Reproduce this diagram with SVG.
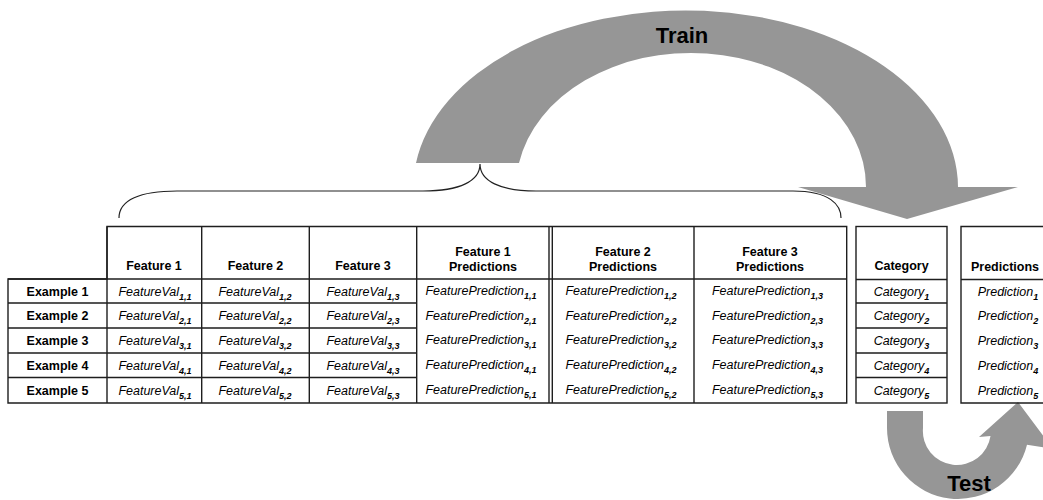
<svg xmlns="http://www.w3.org/2000/svg" width="1043" height="500" viewBox="0 0 1043 500">
<style>
  text { font-family: "Liberation Sans", Arial, sans-serif; fill: #000; text-anchor: middle; }
  .h { font-size: 12.5px; font-weight: bold; }
  .v { font-size: 12.5px; font-style: italic; }
  .sub { font-size: 9px; font-style: italic; font-weight: bold; }
  .big { font-size: 22px; font-weight: bold; }
  .grid { fill: none; stroke: #1e1e1e; stroke-width: 1.4; }
  .arrow { fill: #969696; stroke: none; }
  .brace { fill: none; stroke: #222; stroke-width: 1.2; }
</style>
<rect width="1043" height="500" fill="#fff"/>

<g id="connectors">
  <g id="train-arrow">
    <path class="arrow" d="M 416 163 A 272.3 177 0 0 1 958 187 L 1018 187 L 907 219 L 798 187 L 866 187 A 174.9 134 0 0 0 519 163 Z"/>
    <text class="big" x="682" y="43">Train</text>
  </g>
  <g id="test-arrow">
    <path class="arrow" d="M 887 411 L 923 411 L 923 428 A 34 34 0 0 0 990.5 436 L 979 437 L 1018 402 L 1053 449 L 1027 444.7 A 71 71 0 0 1 887 428 Z"/>
    <text class="big" x="969" y="491">Test</text>
  </g>
  <path id="brace" class="brace" d="M 119 218 C 119 200 140 191 177 191 L 423 191 C 460 191 480 181 480 164 C 480 181 500 191 536 191 L 793 191 C 830 191 841 205 841 218"/>
</g>

<g id="main-table">
  <g class="grid">
    <path d="M 107 226.5 H 846.7 V 403 H 8 V 279 H 107 Z"/>
    <path d="M 8 279 H 846.7"/>
    <path d="M 8 303 H 416.7 M 8 328 H 416.7 M 8 353 H 416.7 M 8 377.5 H 416.7"/>
    <path d="M 107 226.5 V 403 M 201.7 226.5 V 403 M 309.3 226.5 V 403 M 416.7 226.5 V 403 M 549 226.5 V 403 M 552.3 226.5 V 403 M 694 226.5 V 403"/>
  </g>
  <text class="h" x="154" y="270">Feature 1</text>
  <text class="h" x="255.5" y="270">Feature 2</text>
  <text class="h" x="363" y="270">Feature 3</text>
  <text class="h" x="483" y="255.5">Feature 1</text>
  <text class="h" x="483" y="270.5">Predictions</text>
  <text class="h" x="623" y="255.5">Feature 2</text>
  <text class="h" x="623" y="270.5">Predictions</text>
  <text class="h" x="770" y="255.5">Feature 3</text>
  <text class="h" x="770" y="270.5">Predictions</text>

  <text class="h" x="57.5" y="295.5">Example 1</text>
  <text class="h" x="57.5" y="320">Example 2</text>
  <text class="h" x="57.5" y="345">Example 3</text>
  <text class="h" x="57.5" y="369.5">Example 4</text>
  <text class="h" x="57.5" y="394.5">Example 5</text>

  <text class="v" x="155" y="295.5">FeatureVal<tspan class="sub" dy="4">1,1</tspan></text>
  <text class="v" x="255" y="295.5">FeatureVal<tspan class="sub" dy="4">1,2</tspan></text>
  <text class="v" x="363" y="295.5">FeatureVal<tspan class="sub" dy="4">1,3</tspan></text>
  <text class="v" x="155" y="320">FeatureVal<tspan class="sub" dy="4">2,1</tspan></text>
  <text class="v" x="255" y="320">FeatureVal<tspan class="sub" dy="4">2,2</tspan></text>
  <text class="v" x="363" y="320">FeatureVal<tspan class="sub" dy="4">2,3</tspan></text>
  <text class="v" x="155" y="345">FeatureVal<tspan class="sub" dy="4">3,1</tspan></text>
  <text class="v" x="255" y="345">FeatureVal<tspan class="sub" dy="4">3,2</tspan></text>
  <text class="v" x="363" y="345">FeatureVal<tspan class="sub" dy="4">3,3</tspan></text>
  <text class="v" x="155" y="369.5">FeatureVal<tspan class="sub" dy="4">4,1</tspan></text>
  <text class="v" x="255" y="369.5">FeatureVal<tspan class="sub" dy="4">4,2</tspan></text>
  <text class="v" x="363" y="369.5">FeatureVal<tspan class="sub" dy="4">4,3</tspan></text>
  <text class="v" x="155" y="394.5">FeatureVal<tspan class="sub" dy="4">5,1</tspan></text>
  <text class="v" x="255" y="394.5">FeatureVal<tspan class="sub" dy="4">5,2</tspan></text>
  <text class="v" x="363" y="394.5">FeatureVal<tspan class="sub" dy="4">5,3</tspan></text>

  <text class="v" x="481" y="295">FeaturePrediction<tspan class="sub" dy="4">1,1</tspan></text>
  <text class="v" x="621" y="295">FeaturePrediction<tspan class="sub" dy="4">1,2</tspan></text>
  <text class="v" x="767.5" y="295">FeaturePrediction<tspan class="sub" dy="4">1,3</tspan></text>
  <text class="v" x="481" y="319.5">FeaturePrediction<tspan class="sub" dy="4">2,1</tspan></text>
  <text class="v" x="621" y="319.5">FeaturePrediction<tspan class="sub" dy="4">2,2</tspan></text>
  <text class="v" x="767.5" y="319.5">FeaturePrediction<tspan class="sub" dy="4">2,3</tspan></text>
  <text class="v" x="481" y="344">FeaturePrediction<tspan class="sub" dy="4">3,1</tspan></text>
  <text class="v" x="621" y="344">FeaturePrediction<tspan class="sub" dy="4">3,2</tspan></text>
  <text class="v" x="767.5" y="344">FeaturePrediction<tspan class="sub" dy="4">3,3</tspan></text>
  <text class="v" x="481" y="368.5">FeaturePrediction<tspan class="sub" dy="4">4,1</tspan></text>
  <text class="v" x="621" y="368.5">FeaturePrediction<tspan class="sub" dy="4">4,2</tspan></text>
  <text class="v" x="767.5" y="368.5">FeaturePrediction<tspan class="sub" dy="4">4,3</tspan></text>
  <text class="v" x="481" y="393.5">FeaturePrediction<tspan class="sub" dy="4">5,1</tspan></text>
  <text class="v" x="621" y="393.5">FeaturePrediction<tspan class="sub" dy="4">5,2</tspan></text>
  <text class="v" x="767.5" y="393.5">FeaturePrediction<tspan class="sub" dy="4">5,3</tspan></text>
</g>

<g id="category-table">
  <g class="grid">
    <rect x="856" y="226.5" width="91" height="176.5"/>
    <path d="M 856 279.5 H 947 M 856 303 H 947 M 856 328 H 947 M 856 353 H 947 M 856 377.5 H 947"/>
  </g>
  <text class="h" x="901.5" y="270">Category</text>
  <text class="v" x="901.5" y="295.5">Category<tspan class="sub" dy="4">1</tspan></text>
  <text class="v" x="901.5" y="320">Category<tspan class="sub" dy="4">2</tspan></text>
  <text class="v" x="901.5" y="345">Category<tspan class="sub" dy="4">3</tspan></text>
  <text class="v" x="901.5" y="369.5">Category<tspan class="sub" dy="4">4</tspan></text>
  <text class="v" x="901.5" y="394.5">Category<tspan class="sub" dy="4">5</tspan></text>
</g>

<g id="predictions-table">
  <g class="grid">
    <path d="M 1060 226.5 H 961 V 403 H 1060 M 961 279.5 H 1060"/>
  </g>
  <text class="h" x="1005" y="270.5">Predictions</text>
  <text class="v" x="1008" y="295.5">Prediction<tspan class="sub" dy="4">1</tspan></text>
  <text class="v" x="1008" y="320">Prediction<tspan class="sub" dy="4">2</tspan></text>
  <text class="v" x="1008" y="345">Prediction<tspan class="sub" dy="4">3</tspan></text>
  <text class="v" x="1008" y="369.5">Prediction<tspan class="sub" dy="4">4</tspan></text>
  <text class="v" x="1008" y="394.5">Prediction<tspan class="sub" dy="4">5</tspan></text>
</g>
</svg>
